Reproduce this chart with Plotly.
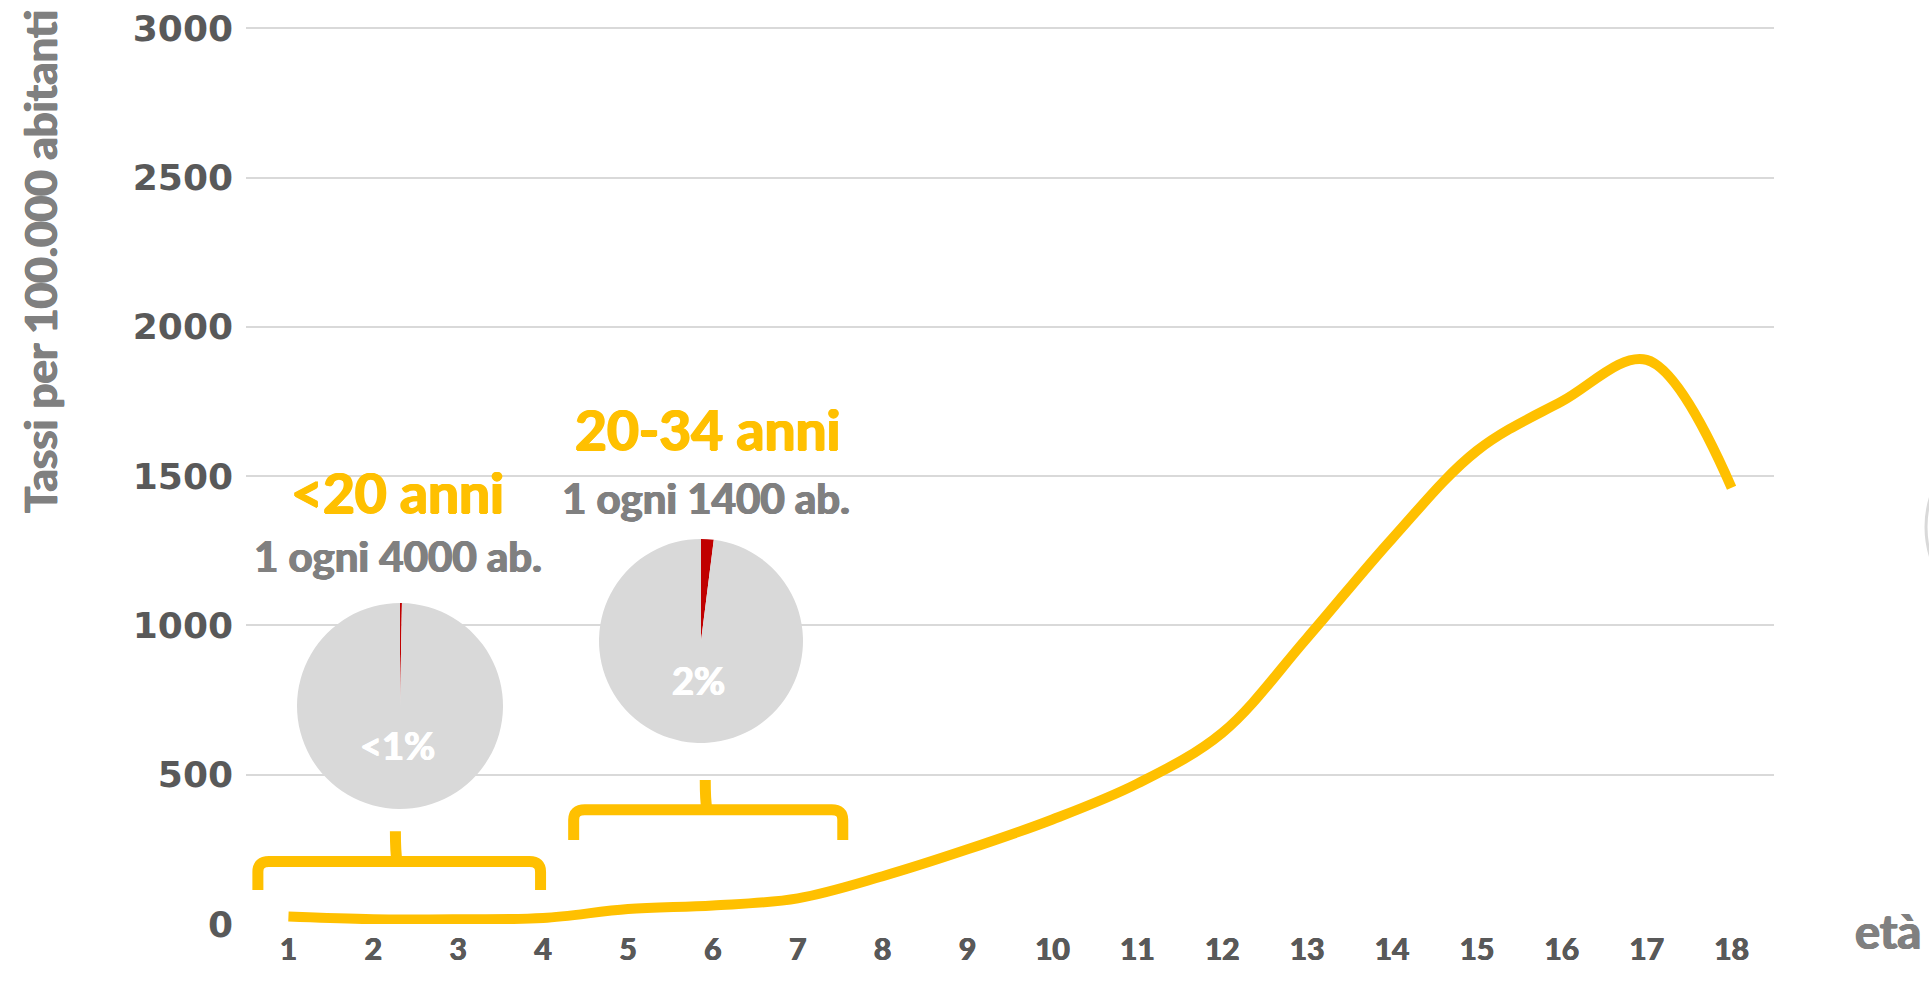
import plotly.graph_objects as go

# Age classes on the x axis and incidence rate per 100,000 inhabitants
eta = list(range(1, 19))
tassi = [25, 16, 16, 20, 50, 62, 86, 160, 250, 350, 470, 640, 958, 1290, 1585, 1750, 1889, 1461]

y_ticks = [0, 500, 1000, 1500, 2000, 2500, 3000]

# Two highlighted age groups
gruppi = ["<20 anni", "20-34 anni"]
frequenze = ["1 ogni 4000 ab.", "1 ogni 1400 ab."]
quota_pct = [0.3, 2.0]
quota_label = ["<1%", "2%"]

# Brace spans (in axis units) under each group
brace_x = [(0.64, 2.28, 3.97), (4.36, 5.93, 7.53)]
brace_y = [(114, 209, 311), (281, 383, 482)]

W, H = 1929, 991
L, R, T, B = 246, 155, 27, 67
PW, PH = W - L - R, H - T - B
Y_TOP = 3004

YELLOW = "#FFC000"
GREY_TXT = "#808080"
TICK_TXT = "#595959"
GRID = "#D9D9D9"


def heavy(color, d=0.8):
    # thicken bold strokes a little with offset copies of the glyphs
    return f"{d}px 0 0 {color}, -{d}px 0 0 {color}, 0 {d / 2}px 0 {color}"


def px_x(px):
    return (px - L) / PW


def px_y(py):
    return (H - B - py) / PH


fig = go.Figure()

fig.add_trace(go.Scatter(
    x=eta, y=tassi, mode="lines",
    line=dict(color=YELLOW, width=10, shape="spline", smoothing=1.0),
    showlegend=False, hoverinfo="skip",
))

# Small pies: share of cases in each age group
pie_centres = [(400, 706), (701, 641)]
pie_radius = [103, 102]
for (cx, cy), r, val, lab in zip(pie_centres, pie_radius, quota_pct, quota_label):
    fig.add_trace(go.Pie(
        values=[val, 100 - val],
        marker=dict(colors=["#C00000", "#D9D9D9"], line=dict(width=0)),
        sort=False, direction="clockwise", rotation=0,
        textinfo="none", hoverinfo="skip", showlegend=False,
        domain=dict(x=[px_x(cx - r), px_x(cx + r)], y=[px_y(cy + r), px_y(cy - r)]),
    ))
    fig.add_annotation(
        x=px_x(cx - 3), y=px_y(cy + 39), xref="paper", yref="paper",
        text=lab, showarrow=False, xanchor="center", yanchor="middle",
        font=dict(family="Lato", size=38, color="white", weight=700,
                  shadow=heavy("white", 0.7)),
    )

# Group titles and frequencies
title_pos = [(397, 492), (707, 429)]
freq_pos = [(398, 556), (706, 498)]
for g, f, (tx, ty), (fx, fy) in zip(gruppi, frequenze, title_pos, freq_pos):
    fig.add_annotation(
        x=px_x(tx), y=px_y(ty), xref="paper", yref="paper", text=g,
        showarrow=False, xanchor="center", yanchor="middle",
        font=dict(family="Lato", size=55, color=YELLOW, weight=700,
                  shadow=heavy(YELLOW, 1.0)),
    )
    fig.add_annotation(
        x=px_x(fx), y=px_y(fy), xref="paper", yref="paper", text=f,
        showarrow=False, xanchor="center", yanchor="middle",
        font=dict(family="Lato", size=42, color=GREY_TXT, weight=700,
                  shadow=heavy(GREY_TXT, 0.8)),
    )

# Curly braces
cx_r, cy_r = 0.13, 34
for (xl, xm, xr), (yl, yb, yt) in zip(brace_x, brace_y):
    path = (
        f"M {xl},{yl} L {xl},{yb - cy_r} Q {xl},{yb} {xl + cx_r},{yb} "
        f"L {xr - cx_r},{yb} Q {xr},{yb} {xr},{yb - cy_r} L {xr},{yl}"
    )
    fig.add_shape(type="path", path=path, xref="x", yref="y",
                  line=dict(color=YELLOW, width=11))
    spike = f"M {xm},{yb} Q {xm - 0.02},{yb + 30} {xm - 0.02},{yt}"
    fig.add_shape(type="path", path=spike, xref="x", yref="y",
                  line=dict(color=YELLOW, width=11))

# Axis titles
fig.add_annotation(
    x=px_x(40), y=px_y(262), xref="paper", yref="paper",
    text="Tassi per 100.000 abitanti", textangle=-90, showarrow=False,
    xanchor="center", yanchor="middle",
    font=dict(family="Lato", size=44, color=GREY_TXT, weight=700,
              shadow=heavy(GREY_TXT, 0.8)),
)
fig.add_annotation(
    x=px_x(1853), y=px_y(931), xref="paper", yref="paper",
    text="età", showarrow=False, xanchor="left", yanchor="middle",
    font=dict(family="Lato", size=47, color=GREY_TXT, weight=700,
              shadow=heavy(GREY_TXT, 0.8)),
)

# Edge of a circle peeking in at the right border
fig.add_shape(type="circle", xref="paper", yref="paper",
              x0=px_x(1926), x1=px_x(2126), y0=px_y(627), y1=px_y(427),
              line=dict(color=GRID, width=3))

fig.update_xaxes(
    range=[0.5, 18.5], tickmode="array", tickvals=eta,
    ticktext=[str(v) for v in eta],
    showgrid=False, zeroline=False, showline=False, ticks="",
    tickfont=dict(family="Lato", size=30, color=TICK_TXT, weight=700,
                  shadow=heavy(TICK_TXT, 0.6)),
    ticklabelstandoff=5,
)
fig.update_yaxes(
    range=[0, Y_TOP], tickmode="array", tickvals=y_ticks,
    showgrid=True, gridcolor=GRID, gridwidth=2,
    zeroline=False, showline=False, ticks="",
    tickfont=dict(family="DejaVu Sans", size=36, color=TICK_TXT, weight=700),
    ticklabelstandoff=12,
)

fig.update_layout(
    width=W, height=H,
    margin=dict(l=L, r=R, t=T, b=B, autoexpand=False),
    paper_bgcolor="white", plot_bgcolor="white",
    showlegend=False,
)

fig.write_html("out.html")
